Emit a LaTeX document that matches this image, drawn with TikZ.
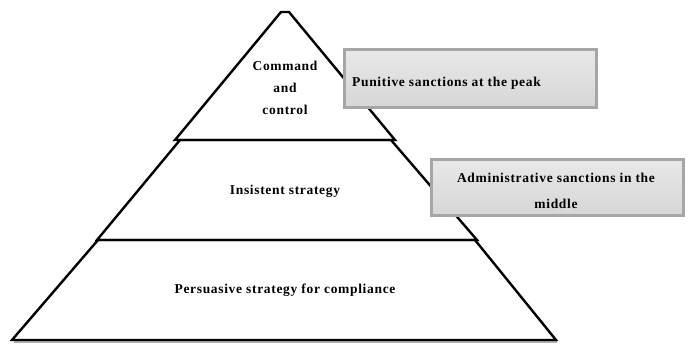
\documentclass[tikz,border=0pt]{standalone}
\usepackage{fontspec}
\setmainfont{Liberation Serif}[LetterSpace=5]
\begin{document}
\begin{tikzpicture}[x=1pt,y=-1pt,
  layer/.style={draw=black,line width=2.4pt,line join=miter},
  lbl/.style={font=\bfseries\fontsize{13.5}{17}\selectfont,align=center,inner sep=0pt},
  sidebox/.style={draw=gray!70,line width=2.5pt,top color=gray!18,bottom color=gray!32,inner sep=0pt}]
\useasboundingbox (0,0) rectangle (688,343);
% pyramid layers
\draw[layer] (175,140) -- (281,12) -- (289,12) -- (395,140) -- cycle;
\draw[layer] (97,240) -- (180,140) -- (391,140) -- (477,240) -- cycle;
\draw[gray!60,line width=1.5pt] (14,342) -- (557,342);
\draw[layer] (12,340) -- (98,240) -- (475,240) -- (556,340) -- cycle;
% labels
\node[lbl] (cc) at (285,88) {Command\\[5pt]and\\[5pt]control};
\node[lbl] (is) at (285,191) {Insistent strategy};
\node[lbl] (ps) at (285,290) {Persuasive strategy for compliance};
% side boxes
\node[sidebox,minimum width=252pt,minimum height=58pt,anchor=north west] (b1) at (343,48) {};
\node[lbl,anchor=west] (t1) at (352,83) {Punitive sanctions at the peak};
\node[sidebox,minimum width=252pt,minimum height=56pt,anchor=north west] (b2) at (430,158) {};
\node[lbl] (t2) at (556,191) {Administrative sanctions in the\\[9pt]middle};
\end{tikzpicture}
\end{document}
